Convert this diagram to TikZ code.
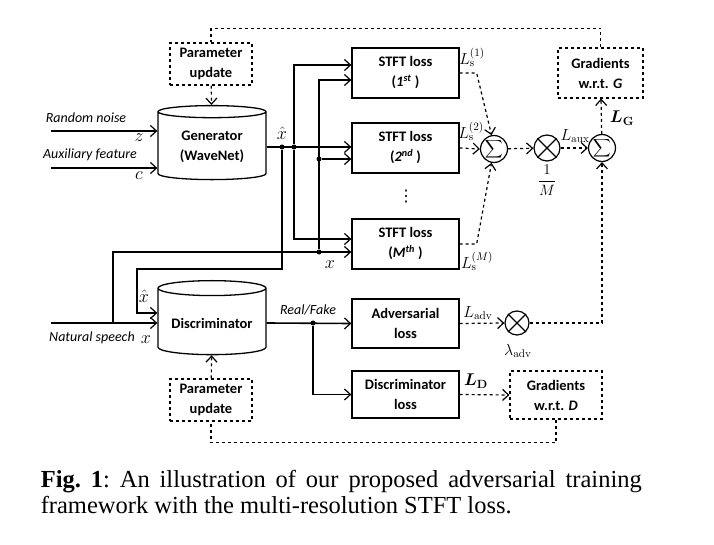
\documentclass[tikz,border=0pt]{standalone}
\usepackage{fix-cm}
\usepackage{exscale}
\usepackage{amsmath}
\usepackage{amssymb}
\usepackage{bm}
\usepackage[no-math]{fontspec}
\setmainfont{Carlito}
\newfontfamily\capfont{Liberation Serif}
\newfontfamily\symfont{DejaVu Sans}
\usetikzlibrary{shapes.geometric,arrows.meta}

\begin{document}
\begin{tikzpicture}[x=1pt,y=-1pt,
    >={Straight Barb[length=6pt,width=11pt,line width=1.2pt]},
    line width=1.6pt,
    every node/.style={font=\fontsize{14.5}{20}\selectfont},
    lossbox/.style={draw,line width=1.3pt,minimum width=107pt,minimum height=50pt,align=center,font=\fontsize{14.5}{20}\selectfont\bfseries},
    updbox/.style={draw,dashed,line width=1.2pt,minimum width=82pt,minimum height=42pt,align=center,font=\fontsize{14.5}{20}\selectfont\bfseries},
    net/.style={cylinder,shape border rotate=90,aspect=0.17,draw,line width=1.3pt,minimum width=108pt,minimum height=74pt,align=center,font=\fontsize{14.5}{20}\selectfont\bfseries},
    op/.style={circle,draw,line width=1.2pt,minimum size=26pt,inner sep=0pt,font=\fontsize{12.5}{14}\selectfont},
    dot/.style={circle,fill,inner sep=0pt,minimum size=5pt},
    flow/.style={dashed,line width=1.2pt},
    lab/.style={font=\fontsize{14}{16}\selectfont\itshape},
    var/.style={font=\fontsize{18}{20}\selectfont},
    mlab/.style={font=\fontsize{16}{18}\selectfont}]
    \useasboundingbox (0,0) rectangle (714,545);
    % generator side
    \node [updbox] (pu1) at (211,64) {Parameter\\update};
    \node [net] (gen) at (212,147) {Generator\\(WaveNet)};
    % stft losses
    \node [lossbox] (stft1) at (405.5,73) {STFT loss\\(\textit{1\textsuperscript{st}} )};
    \node [lossbox] (stft2) at (405.5,148) {STFT loss\\(\textit{2\textsuperscript{nd}} )};
    \node [lossbox] (stftm) at (405.5,244) {STFT loss\\(\textit{M\textsuperscript{th}} )};
    \node [font=\fontsize{16}{18}\symfont] (vdots) at (406,197) {⋮};
    % operators
    \node [op] (sum1) at (494,149) {$\displaystyle\sum$};
    \node [op] (mul1) at (547,148) {};
    \node [op] (sum2) at (602,148) {$\displaystyle\sum$};
    \node [op,minimum size=24pt] (mul2) at (517,323) {};
    \draw [line width=1.2pt] (mul1.45) -- (mul1.225) (mul1.135) -- (mul1.315);
    \draw [line width=1.2pt] (mul2.45) -- (mul2.225) (mul2.135) -- (mul2.315);
    \node [updbox,minimum width=85pt,minimum height=50pt] (gradg) at (600.5,73) {Gradients\\w.r.t. \textit{G}};
    % discriminator side
    \node [net] (disc) at (212,323) {Discriminator};
    \node [updbox] (pu2) at (211,400) {Parameter\\update};
    \node [lossbox,minimum height=49pt] (adv) at (405.5,323.5) {Adversarial\\loss};
    \node [lossbox,minimum height=47pt] (dloss) at (405.5,394.5) {Discriminator\\loss};
    \node [updbox,minimum width=92pt,minimum height=48pt] (gradd) at (556,395) {Gradients\\w.r.t. \textit{D}};
    % inputs
    \coordinate (zin) at (51,131);
    \coordinate (cin) at (51,168);
    \coordinate (xin) at (51,323);
    \draw [->] (zin) -- (zin -| gen.west);
    \draw [->] (cin) -- (cin -| gen.west);
    \draw [->] (xin) -- (xin -| gen.west);
    \node [lab] at (86,118) {Random noise};
    \node [lab] at (90,155) {Auxiliary feature};
    \node [lab] at (92,338) {Natural speech};
    \node [var] at (139,138) {$z$};
    \node [var] at (139,176) {$c$};
    % junctions
    \node [dot] (j1) at (282,147) {};
    \node [dot] (j2) at (294,147) {};
    \coordinate (j3) at (113,323);
    \node [dot] (j4) at (319,252) {};
    \node [dot] (j5) at (319,159) {};
    \node [dot] (j6) at (313,323) {};
    % generated speech
    \draw [->] (gen.east) -- (stft2.west |- gen.east);
    \draw [->] (j2) |- ([yshift=8pt]stft1.west);
    \draw [->] (j2) |- ([yshift=5pt]stftm.west);
    \draw [->] (j1) |- (137,269) |- ([yshift=10pt]disc.west);
    % natural speech
    \draw [->] (j3) |- ([yshift=-8pt]stftm.west);
    \draw [->] (j4) |- ([yshift=-7pt]stft1.west);
    \draw [->] (j5) -- (j5 -| stft2.west);
    \node [var] at (282,133) {$\hat{x}$};
    \node [var] at (330,265) {$x$};
    \node [var] at (144,296) {$\hat{x}$};
    \node [var] at (146,340) {$x$};
    % real / fake
    \draw [->] (disc.east) -- (adv.west);
    \draw [->] (j6) |- (dloss.west);
    \node [lab] at (308,310) {Real/Fake};
    % losses (dashed)
    \draw [flow,->] (pu1) -- (gen);
    \draw [flow,->] (pu2) -- (disc);
    \draw [flow,->] (stft1.east) -- ++(17,0) -- (sum1.100);
    \draw [flow,->] (stft2.east) -- (sum1.west);
    \draw [flow,->] (stftm.east) -- ++(17,0) -- (sum1.260);
    \draw [flow,->] (sum1) -- (mul1);
    \draw [flow,->] (mul1) -- (sum2);
    \draw [flow,->] (sum2) -- (gradg);
    \draw [flow] (gradg.north) -- ++(0,-19) -| (pu1.north);
    \draw [flow,->] (adv.east) -- (mul2.west);
    \draw [flow,->] (mul2.east) -| (sum2.south);
    \draw [flow,->] (dloss.east) -- (gradd.west);
    \draw [flow] (gradd.south) -- ++(0,23) -| (pu2.south);
    % loss labels
    \node [mlab] at (472,57) {$L_\mathrm{s}^{(1)}$};
    \node [mlab] at (471,131) {$L_\mathrm{s}^{(2)}$};
    \node [mlab] at (477,261) {$L_\mathrm{s}^{(M)}$};
    \node [mlab,font=\fontsize{15}{18}\selectfont] at (547,180) {$\dfrac{1}{M}$};
    \node [mlab] at (575,136) {$L_\mathrm{aux}$};
    \node [mlab,font=\fontsize{17}{18}\selectfont] at (622,118) {$\bm{L}_\mathbf{G}$};
    \node [mlab] at (478,313) {$L_\mathrm{adv}$};
    \node [mlab] at (518,351) {$\lambda_\mathrm{adv}$};
    \node [mlab,font=\fontsize{17}{18}\selectfont] at (476,381) {$\bm{L}_\mathbf{D}$};
    % caption
    \node [anchor=base west,inner sep=0pt,font=\fontsize{24.5}{26}\selectfont\capfont\frenchspacing] (cap1) at (40,487)
        {\makebox[601pt][s]{\textbf{Fig. 1}: An illustration of our proposed adversarial training}};
    \node [anchor=base west,inner sep=0pt,font=\fontsize{24.5}{26}\selectfont\capfont] (cap2) at (40,513)
        {framework with the multi-resolution STFT loss.};
\end{tikzpicture}
\end{document}
